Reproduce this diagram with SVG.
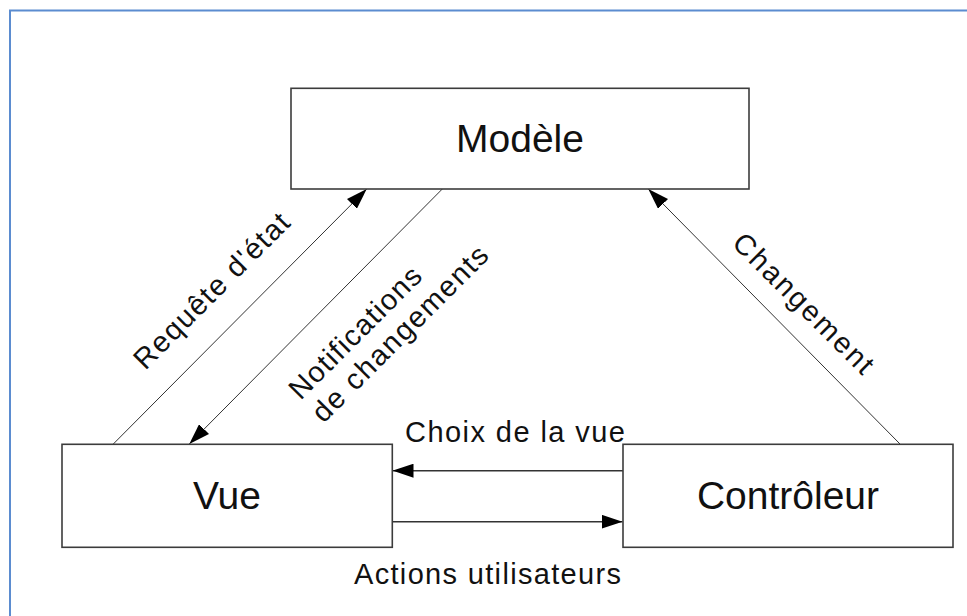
<svg xmlns="http://www.w3.org/2000/svg" width="967" height="616" viewBox="0 0 967 616">
<style>
.node rect{fill:#fff;stroke:#3c3c3c;stroke-width:1.6}
.node text{font-family:"Liberation Sans",Arial,sans-serif;font-size:39px;fill:#111;text-anchor:middle}
.lbl{font-family:"Liberation Sans",Arial,sans-serif;font-size:29px;fill:#111}
.diag{stroke:#333;stroke-width:1;fill:none}
.hor{stroke:#333;stroke-width:1.6;fill:none}
</style>
<defs>
<marker id="arr" viewBox="0 0 21 14" refX="21" refY="7" markerWidth="21" markerHeight="14" markerUnits="userSpaceOnUse" orient="auto">
<path d="M0,0 L21,7 L0,14 z" fill="#000"/>
</marker>
</defs>
<rect x="0" y="0" width="967" height="616" fill="#fff"/>
<rect x="10" y="10.5" width="1000" height="700" fill="none" stroke="#5b8cd0" stroke-width="2"/>
<g id="connectors">
<line class="diag" x1="113.3" y1="444" x2="366.7" y2="189" marker-end="url(#arr)"/>
<line class="diag" x1="442.3" y1="189" x2="189.3" y2="444" marker-end="url(#arr)"/>
<line class="diag" x1="900" y1="444" x2="648.3" y2="189" marker-end="url(#arr)"/>
<line class="hor" x1="623" y1="470.7" x2="392.5" y2="470.7" marker-end="url(#arr)"/>
<line class="hor" x1="392" y1="521.7" x2="622.5" y2="521.7" marker-end="url(#arr)"/>
<text class="lbl" transform="translate(218.5,297.7) rotate(-45)" text-anchor="middle" textLength="207" lengthAdjust="spacing">Requête d'état</text>
<text class="lbl" transform="translate(300.6,401) rotate(-45)" textLength="174" lengthAdjust="spacing">Notifications</text>
<text class="lbl" transform="translate(323.5,424) rotate(-45)" textLength="236" lengthAdjust="spacing">de changements</text>
<text class="lbl" transform="translate(796.6,310.3) rotate(45)" text-anchor="middle" textLength="186" lengthAdjust="spacing">Changement</text>
<text class="lbl" x="405" y="441.7" textLength="220" lengthAdjust="spacing">Choix de la vue</text>
<text class="lbl" x="354" y="584" textLength="267" lengthAdjust="spacing">Actions utilisateurs</text>
</g>
<g id="modele" class="node">
<rect x="291" y="88.3" width="458" height="100.7"/>
<text x="520" y="151.7">Modèle</text>
</g>
<g id="vue" class="node">
<rect x="62" y="444.3" width="330.3" height="103"/>
<text x="227" y="508.5">Vue</text>
</g>
<g id="controleur" class="node">
<rect x="623" y="444.3" width="330" height="103"/>
<text x="788" y="508.5">Contrôleur</text>
</g>
</svg>
